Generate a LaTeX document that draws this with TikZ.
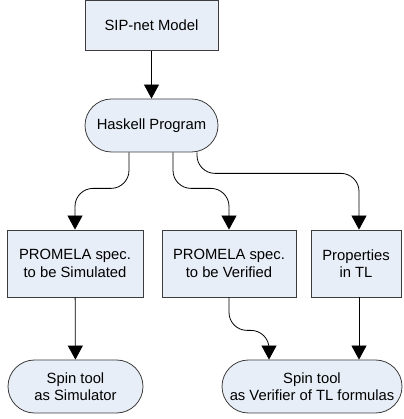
\documentclass[tikz,border=0pt]{standalone}
\usepackage{fontspec}
\setmainfont{Liberation Sans}
\usetikzlibrary{arrows.meta}
\definecolor{boxfill}{RGB}{232,238,247}
\definecolor{boxline}{RGB}{60,60,60}
\tikzstyle{block} = [rectangle, draw=boxline, fill=boxfill, align=center, inner sep=0pt, minimum height=67pt]
\tikzstyle{pill} = [block, rounded corners=26.5pt, minimum height=53pt]
\tikzstyle{flow} = [draw=black, rounded corners=18pt, -{Triangle[length=14pt,width=15pt]}]

\begin{document}
\begin{tikzpicture}[font=\fontsize{14.8}{17.5}\selectfont, line width=0.8pt]
  \useasboundingbox (0pt,0pt) rectangle (403pt,419pt);
  \draw (151.5pt,393.5pt)node[block,minimum width=133pt,minimum height=50pt](sip){SIP-net Model};
  \draw (151.5pt,293.5pt)node[pill,minimum width=133pt](hask){Haskell Program};
  \draw (75.0pt,155.5pt)node[block,minimum width=136pt](simspec){PROMELA spec.\\to be Simulated};
  \draw (229.0pt,155.5pt)node[block,minimum width=134pt](verspec){PROMELA spec.\\to be Verified};
  \draw (356.0pt,155.5pt)node[block,minimum width=90pt](props){Properties\\in TL};
  \draw (75.5pt,32.5pt)node[pill,minimum width=135pt](simtool){Spin tool\\as Simulator};
  \draw (312.0pt,32.5pt)node[pill,minimum width=180pt](vertool){Spin tool\\as Verifier of TL formulas};
  \draw[flow] (sip) -- (hask);
  \draw[flow] ([xshift=-22.5pt]hask.south) -- ++(0pt,-36pt) -| (simspec.north);
  \draw[flow] ([xshift=21.5pt]hask.south) -- ++(0pt,-36pt) -| (verspec.north);
  \draw[flow] ([xshift=45.5pt]hask.south) -- ++(0pt,-21pt) -| ([xshift=3pt]props.north);
  \draw[flow] (simspec) -- (simtool);
  \draw[flow] (verspec.south) -- ++(0pt,-33pt) -| ([xshift=-43pt]vertool.north);
  \draw[flow] ([xshift=3pt]props.south) -- ([xshift=47pt]vertool.north);
\end{tikzpicture}
\end{document}
